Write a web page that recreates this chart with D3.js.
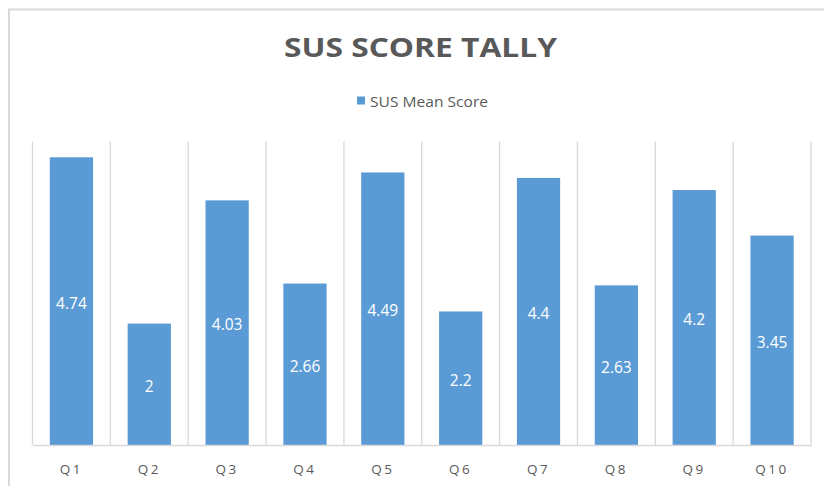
<!DOCTYPE html>
<html>
<head>
<meta charset="utf-8">
<script src="https://cdn.jsdelivr.net/npm/d3@7"></script>
<style>
  html, body { margin: 0; padding: 0; background: #fff; }
  svg { display: block; }
</style>
</head>
<body>
<svg id="chart" width="824" height="486"></svg>
<script>
const categories = ["Q1", "Q2", "Q3", "Q4", "Q5", "Q6", "Q7", "Q8", "Q9", "Q10"];
const values = [4.74, 2, 4.03, 2.66, 4.49, 2.2, 4.4, 2.63, 4.2, 3.45];
const seriesName = "SUS Mean Score";
const title = "SUS SCORE TALLY";
const yDomain = [0, 5];

const svg = d3.select("#chart");
const W = 824, H = 486;
const plot = { left: 32.5, right: 811, top: 141.5, bottom: 445 };
const textColor = "#595959";
const barColor = "#5b9bd5";
const gridColor = "#d9d9d9";
const font = "'Open Sans', 'Liberation Sans', sans-serif";

// chart border
svg.append("path")
  .attr("d", `M9,${H + 2} V9.5 H${W + 2}`)
  .attr("fill", "none").attr("stroke", "#d9d9d9").attr("stroke-width", 2);

const x = d3.scaleBand().domain(categories).range([plot.left, plot.right]).paddingInner(0).paddingOuter(0);
const y = d3.scaleLinear().domain(yDomain).range([plot.bottom, plot.top]);

// vertical gridlines at category boundaries
const bounds = categories.map(c => x(c)).concat([x(categories[categories.length - 1]) + x.bandwidth()]);
svg.append("g").selectAll("line").data(bounds).join("line")
  .attr("x1", d => d).attr("x2", d => d)
  .attr("y1", y(yDomain[1])).attr("y2", y(0))
  .attr("stroke", gridColor).attr("stroke-width", 1.3);

// bars
const barW = x.bandwidth() / 1.8;
svg.append("g").selectAll("rect").data(values).join("rect")
  .attr("x", (d, i) => x(categories[i]) + (x.bandwidth() - barW) / 2)
  .attr("width", barW)
  .attr("y", d => y(d))
  .attr("height", d => y(0) - y(d))
  .attr("fill", barColor);

// x axis
const xAxis = svg.append("g").attr("transform", `translate(0,${y(0)})`)
  .call(d3.axisBottom(x).tickSize(0).tickPadding(19));
xAxis.select(".domain").attr("stroke", gridColor).attr("stroke-width", 1.3);
xAxis.selectAll("text")
  .attr("fill", textColor)
  .style("font-family", font)
  .style("font-size", "13.5px")
  .style("letter-spacing", "2.5px");

// data labels
svg.append("g").selectAll("text").data(values).join("text")
  .attr("x", (d, i) => x(categories[i]) + x.bandwidth() / 2)
  .attr("y", d => (y(d) + y(0)) / 2 + 2)
  .attr("dy", "0.35em")
  .attr("text-anchor", "middle")
  .attr("fill", "#ffffff")
  .style("font-family", font)
  .style("font-size", "15.5px")
  .text(d => d);

// title
svg.append("text")
  .attr("x", 420.5).attr("y", 56.5)
  .attr("text-anchor", "middle")
  .attr("fill", textColor)
  .attr("textLength", 273).attr("lengthAdjust", "spacingAndGlyphs")
  .style("font-family", font)
  .style("font-weight", "bold")
  .style("font-size", "26.5px")
  .text(title);

// legend
const lg = svg.append("g");
lg.append("rect").attr("x", 357).attr("y", 96.5).attr("width", 8).attr("height", 8).attr("fill", barColor);
lg.append("text")
  .attr("x", 370).attr("y", 106.5)
  .attr("fill", textColor)
  .attr("textLength", 118).attr("lengthAdjust", "spacingAndGlyphs")
  .style("font-family", font)
  .style("font-size", "14px")
  .text(seriesName);
</script>
</body>
</html>
